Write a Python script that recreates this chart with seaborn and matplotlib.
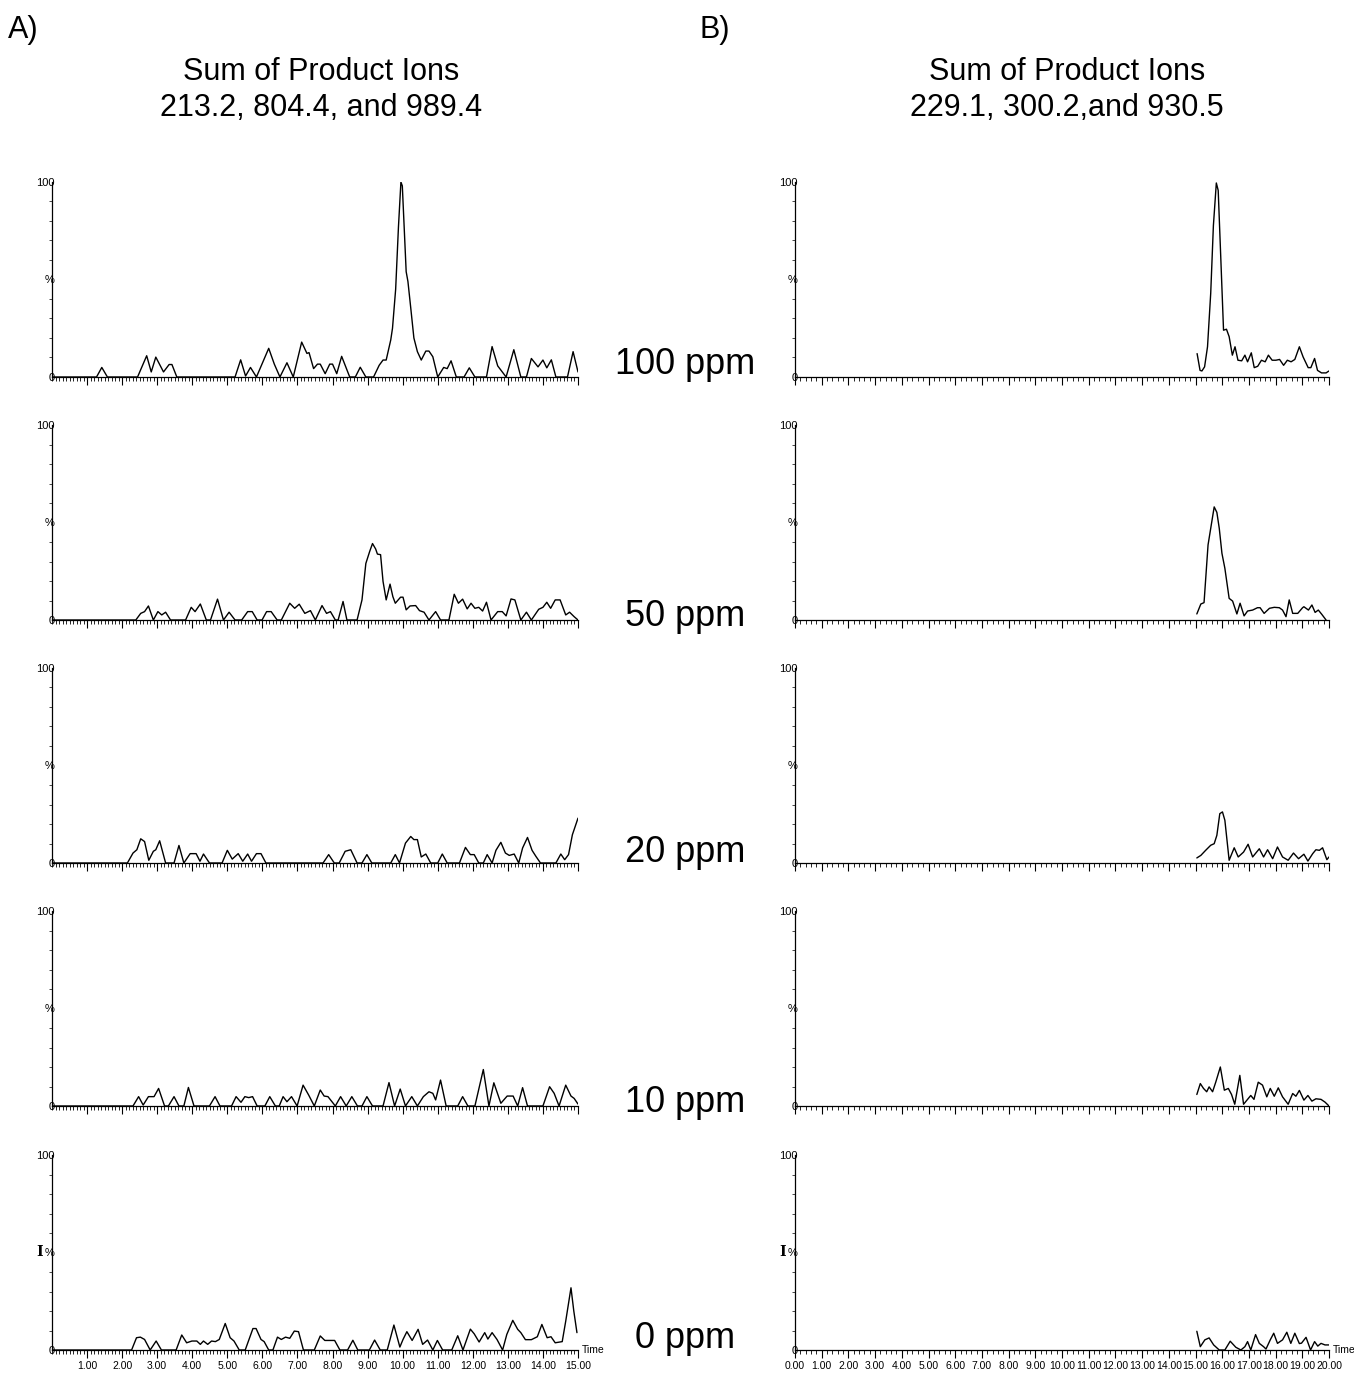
import numpy as np
import pandas as pd
import matplotlib
matplotlib.use("Agg")
import matplotlib.pyplot as plt
from matplotlib.ticker import FixedLocator, MultipleLocator
import seaborn as sns

# ---------------- data (time [min], relative intensity [%]) ----------------
concentrations = ["100 ppm", "50 ppm", "20 ppm", "10 ppm", "0 ppm"]
title_a = ["Sum of Product Ions", "213.2, 804.4, and 989.4"]
title_b = ["Sum of Product Ions", "229.1, 300.2,and 930.5"]
ticks_a = list(range(1, 16))
ticks_b = list(range(0, 21))

A100 = [(0.0, 0), (1.27, 0), (1.42, 4.9), (1.58, 0), (2.44, 0), (2.70, 10.9), (2.83, 2.6),
        (2.96, 10.2), (3.18, 2.6), (3.34, 6.4), (3.42, 6.4), (3.56, 0), (5.22, 0), (5.38, 8.8),
        (5.52, 0.5), (5.66, 4.9), (5.83, 0), (6.18, 14.7), (6.34, 6.6), (6.50, 0), (6.70, 7.3),
        (6.88, 0), (7.12, 17.9), (7.27, 12.1), (7.33, 12.5), (7.46, 4.3), (7.57, 6.6), (7.65, 6.6),
        (7.79, 1.7), (7.92, 6.6), (8.00, 6.6), (8.12, 1.7), (8.26, 10.6), (8.49, 0), (8.65, 0),
        (8.79, 5.0), (8.95, 0), (9.17, 0), (9.33, 6.0), (9.44, 8.7), (9.53, 8.7), (9.66, 19),
        (9.71, 25), (9.80, 45), (9.88, 77), (9.95, 100), (9.99, 98), (10.10, 54), (10.15, 49),
        (10.23, 35.5), (10.32, 20), (10.42, 13), (10.53, 8.7), (10.66, 13.3), (10.75, 13.3),
        (10.86, 10.4), (11.00, 0), (11.17, 4.9), (11.27, 4.3), (11.38, 8.3), (11.53, 0),
        (11.75, 0), (11.90, 4.7), (12.06, 0), (12.39, 0), (12.55, 15.6), (12.71, 5.7),
        (12.95, 0), (13.17, 14.0), (13.37, 0), (13.53, 0), (13.67, 9.5), (13.86, 5.2),
        (14.00, 8.7), (14.11, 4.7), (14.24, 8.8), (14.37, 0), (14.70, 0), (14.86, 13.0), (15.0, 2.6)]

A50 = [(0.0, 0), (2.39, 0), (2.53, 3.4), (2.64, 4.3), (2.75, 7.2), (2.89, 0), (3.02, 4.3),
       (3.13, 2.6), (3.24, 4.0), (3.38, 0), (3.81, 0), (3.97, 6.5), (4.08, 4.3), (4.23, 8.2),
       (4.40, 0), (4.52, 0), (4.72, 10.7), (4.89, 0), (5.05, 4.0), (5.22, 0), (5.41, 0),
       (5.58, 4.3), (5.71, 4.3), (5.85, 0), (5.99, 0), (6.12, 4.3), (6.25, 4.3), (6.42, 0),
       (6.54, 0), (6.78, 8.6), (6.92, 6.0), (7.05, 8.1), (7.21, 3.4), (7.37, 4.8), (7.51, 0),
       (7.70, 7.4), (7.83, 3.4), (7.94, 4.3), (8.08, 0), (8.16, 0), (8.30, 9.5), (8.41, 0),
       (8.70, 0), (8.84, 10.3), (8.95, 29), (9.06, 35.2), (9.14, 39.2), (9.23, 36.4),
       (9.28, 33.8), (9.37, 33.5), (9.44, 19.8), (9.53, 10.3), (9.64, 18.4), (9.72, 12),
       (9.79, 8.6), (9.94, 11.7), (10.01, 11.7), (10.10, 5.2), (10.21, 7.2), (10.37, 7.4),
       (10.48, 4.8), (10.61, 4.0), (10.75, 0), (10.94, 4.3), (11.08, 0), (11.32, 0),
       (11.47, 13.2), (11.59, 8.6), (11.71, 10.7), (11.84, 5.7), (11.95, 8.6), (12.06, 6.0),
       (12.17, 6.5), (12.28, 4.6), (12.39, 9.1), (12.52, 0), (12.71, 4.3), (12.84, 4.3),
       (12.95, 2.1), (13.09, 10.8), (13.20, 10.3), (13.37, 0), (13.53, 4.0), (13.67, 0),
       (13.88, 5.5), (14.00, 6.5), (14.11, 9.1), (14.22, 6.0), (14.35, 10.3), (14.49, 10.3),
       (14.65, 2.6), (14.76, 4.0), (14.89, 1.7), (15.0, 0)]

A20 = [(0.0, 0), (2.15, 0), (2.31, 5.1), (2.42, 6.8), (2.53, 12.4), (2.64, 11), (2.76, 1.4),
       (2.89, 6), (2.96, 6.8), (3.07, 11.4), (3.24, 0), (3.48, 0), (3.62, 9), (3.76, 0),
       (3.94, 4.8), (4.11, 4.8), (4.22, 0.9), (4.32, 4.6), (4.49, 0), (4.85, 0), (5.00, 6.5),
       (5.14, 2.0), (5.31, 4.8), (5.44, 0.9), (5.58, 4.6), (5.69, 0.9), (5.83, 4.8), (5.96, 4.8),
       (6.10, 0), (7.73, 0), (7.89, 4.3), (8.05, 0), (8.19, 0), (8.36, 6), (8.52, 6.8), (8.70, 0),
       (8.84, 0), (8.98, 4.3), (9.12, 0), (9.66, 0), (9.79, 4.3), (9.91, 0), (10.08, 10.2),
       (10.23, 13.6), (10.32, 12), (10.42, 12), (10.53, 3.1), (10.66, 4.6), (10.80, 0),
       (11.00, 0), (11.13, 4.6), (11.27, 0), (11.62, 0), (11.79, 8), (11.93, 4.3), (12.04, 4.3),
       (12.17, 0), (12.30, 0), (12.41, 4.3), (12.55, 0), (12.66, 6.5), (12.80, 10.6),
       (12.93, 5.1), (13.04, 3.9), (13.18, 4.6), (13.31, 0), (13.42, 7.7), (13.56, 13.1),
       (13.69, 6.5), (13.80, 3.4), (13.93, 0), (14.37, 0), (14.51, 4.6), (14.62, 1.7),
       (14.73, 4.3), (14.84, 14.5), (15.0, 23)]

A10 = [(0.0, 0), (2.31, 0), (2.47, 4.8), (2.60, 0.5), (2.75, 4.8), (2.91, 4.8), (3.04, 9),
       (3.21, 0), (3.32, 0), (3.48, 4.8), (3.62, 0), (3.76, 0), (3.89, 9.5), (4.05, 0), (4.49, 0),
       (4.65, 4.8), (4.79, 0), (5.12, 0), (5.25, 4.8), (5.39, 1.9), (5.50, 4.8), (5.61, 4.3),
       (5.72, 4.8), (5.85, 0), (6.07, 0), (6.21, 4.8), (6.37, 0), (6.48, 0), (6.59, 4.8),
       (6.70, 2.2), (6.83, 4.8), (6.99, 0), (7.16, 10.7), (7.32, 5.6), (7.48, 0), (7.65, 8.2),
       (7.76, 5.1), (7.87, 4.8), (8.08, 0), (8.23, 4.8), (8.39, 0), (8.55, 4.8), (8.71, 0),
       (8.84, 0), (8.98, 4.8), (9.14, 0), (9.44, 0), (9.61, 12), (9.77, 0), (9.93, 8.7),
       (10.08, 0), (10.26, 4.8), (10.42, 0), (10.59, 4.8), (10.75, 7.3), (10.86, 6.5),
       (10.94, 3.1), (11.08, 13.3), (11.24, 0), (11.57, 0), (11.71, 4.8), (11.86, 0), (12.06, 0),
       (12.30, 18.7), (12.46, 0), (12.60, 11.9), (12.80, 1.4), (12.98, 5.1), (13.15, 5.1),
       (13.28, 0), (13.42, 9.4), (13.56, 0), (14.00, 0), (14.19, 9.9), (14.32, 6.5), (14.46, 0),
       (14.65, 10.7), (14.80, 5.1), (14.89, 3.9), (15.0, 1.0)]

A0 = [(0.0, 0), (2.27, 0), (2.41, 6.3), (2.52, 6.6), (2.64, 5.4), (2.80, 0), (2.97, 4.6),
      (3.12, 0), (3.54, 0), (3.70, 7.7), (3.84, 3.7), (3.99, 4.6), (4.13, 4.6), (4.23, 2.9),
      (4.32, 4.6), (4.44, 2.9), (4.55, 4.6), (4.66, 4.3), (4.77, 5.4), (4.94, 13.6), (5.08, 6.3),
      (5.19, 4.6), (5.34, 0), (5.51, 0), (5.73, 11), (5.82, 11), (5.96, 5.4), (6.05, 4.3),
      (6.18, 0), (6.30, 0), (6.43, 6.6), (6.54, 5.4), (6.66, 6.6), (6.78, 6.0), (6.91, 9.7),
      (7.03, 9.4), (7.17, 0), (7.48, 0), (7.65, 7.2), (7.78, 4.9), (7.93, 4.9), (8.06, 4.9),
      (8.21, 0), (8.43, 0), (8.58, 5), (8.72, 0), (9.05, 0), (9.20, 5.1), (9.36, 0), (9.56, 0),
      (9.75, 12.8), (9.92, 1.5), (10.01, 5.4), (10.12, 9.4), (10.27, 4.9), (10.44, 10.6),
      (10.57, 2.9), (10.71, 5.1), (10.86, 0), (10.99, 4.9), (11.14, 0), (11.40, 0), (11.57, 7.3),
      (11.72, 0), (11.93, 10.7), (12.04, 8.3), (12.18, 4.1), (12.34, 8.9), (12.43, 5.6),
      (12.55, 8.9), (12.69, 5.4), (12.85, 0), (12.97, 8.0), (13.14, 15.2), (13.28, 10.6),
      (13.37, 8.9), (13.50, 5.3), (13.67, 5.3), (13.84, 6.8), (13.97, 13.1), (14.12, 6.3),
      (14.23, 6.8), (14.35, 3.7), (14.55, 4.3), (14.65, 14.8), (14.80, 31.9), (14.88, 20),
      (14.97, 8.9)]

B100 = [(15.06, 12), (15.17, 3.4), (15.24, 3.1), (15.34, 5.2), (15.45, 15.5), (15.57, 43),
        (15.67, 77.6), (15.78, 99.5), (15.85, 95.7), (15.95, 60), (16.05, 24), (16.16, 24.5),
        (16.26, 20.7), (16.38, 11.2), (16.48, 15.5), (16.59, 8.6), (16.73, 8.3), (16.85, 11.2),
        (16.95, 7.8), (17.09, 12.4), (17.20, 4.8), (17.33, 5.5), (17.47, 8.6), (17.61, 7.8),
        (17.73, 11.2), (17.87, 8.6), (18.01, 8.6), (18.15, 9.0), (18.30, 6.0), (18.44, 8.6),
        (18.58, 7.8), (18.72, 9.0), (18.89, 15.5), (19.03, 10.3), (19.22, 4.8), (19.32, 4.8),
        (19.46, 9.5), (19.57, 3.4), (19.72, 2.1), (19.89, 2.1), (20.0, 3.1)]

B50 = [(15.05, 3.1), (15.20, 8.2), (15.32, 8.9), (15.47, 38.5), (15.57, 47), (15.70, 58),
       (15.80, 55.2), (15.89, 47), (15.99, 34.2), (16.10, 26.5), (16.26, 11.1), (16.39, 9.7),
       (16.55, 3.1), (16.67, 8.6), (16.82, 2.1), (16.95, 4.6), (17.14, 5.1), (17.32, 6.3),
       (17.42, 6.3), (17.57, 3.4), (17.77, 6.0), (17.95, 6.5), (18.14, 6.3), (18.26, 5.1),
       (18.39, 1.7), (18.51, 10.3), (18.64, 3.4), (18.83, 3.4), (19.01, 6.3), (19.06, 6.8),
       (19.23, 5.1), (19.36, 7.7), (19.48, 3.9), (19.60, 5.1), (19.73, 2.9), (19.89, 0)]

B20 = [(15.05, 2.6), (15.20, 3.9), (15.38, 6.5), (15.57, 9.1), (15.70, 9.9), (15.80, 14.2),
       (15.91, 25.3), (16.01, 26.2), (16.10, 21.9), (16.26, 1.4), (16.45, 7.8), (16.60, 3.1),
       (16.80, 5.6), (16.97, 9.6), (17.14, 3.1), (17.39, 7.3), (17.55, 3.1), (17.70, 6.8),
       (17.89, 2.2), (18.07, 8.2), (18.26, 3.1), (18.47, 1.4), (18.67, 5.1), (18.86, 2.2),
       (19.06, 4.5), (19.21, 1.0), (19.39, 4.8), (19.51, 6.8), (19.64, 6.5), (19.76, 7.8),
       (19.92, 1.7), (20.0, 3.1)]

B10 = [(15.05, 5.9), (15.18, 11.5), (15.30, 9.0), (15.42, 7.3), (15.51, 9.8), (15.64, 7.3),
       (15.76, 12.3), (15.93, 20), (16.08, 8.1), (16.23, 9.0), (16.35, 5.9), (16.47, 0.9),
       (16.66, 15.7), (16.80, 0.9), (16.95, 3.4), (17.07, 5.4), (17.19, 3.4), (17.35, 12.2),
       (17.51, 10.7), (17.67, 4.7), (17.80, 9.0), (17.95, 5.0), (18.10, 9.3), (18.26, 4.7),
       (18.47, 0.9), (18.64, 6.4), (18.76, 5.0), (18.89, 8.0), (19.06, 3.0), (19.21, 5.4),
       (19.36, 2.5), (19.51, 3.7), (19.70, 3.4), (19.85, 2.0), (20.0, 0)]

B0 = [(15.05, 9.6), (15.18, 1.7), (15.35, 5.2), (15.51, 6.2), (15.68, 2.6), (15.89, 0),
      (16.10, 0), (16.30, 4.5), (16.51, 1.4), (16.70, 0), (16.85, 1.7), (16.95, 4.3), (17.07, 0),
      (17.25, 7.9), (17.39, 3.4), (17.55, 1.7), (17.64, 0.5), (17.80, 5.2), (17.93, 8.6),
      (18.07, 3.4), (18.26, 5.2), (18.42, 9.1), (18.57, 3.4), (18.72, 8.6), (18.89, 3.3),
      (18.97, 3.5), (19.14, 6.5), (19.31, 0), (19.46, 4.3), (19.58, 2.0), (19.70, 3.4),
      (19.85, 2.6), (20.0, 2.6)]

traces_a = [A100, A50, A20, A10, A0]
traces_b = [B100, B50, B20, B10, B0]

# ---------------- style ----------------
sns.set_theme(style="white")
plt.rcParams["font.family"] = ["Liberation Sans", "DejaVu Sans"]
plt.rcParams["text.color"] = "black"
plt.rcParams["xtick.color"] = "black"
plt.rcParams["ytick.color"] = "black"
plt.rcParams["axes.labelcolor"] = "black"

W, H = 1354, 1374
fig = plt.figure(figsize=(W / 100, H / 100), dpi=100)

columns = [
    dict(traces=traces_a, left=52, right=578, xmax=15, ticks=ticks_a, minor=0.1),
    dict(traces=traces_b, left=795, right=1329, xmax=20, ticks=ticks_b, minor=0.2),
]
panel_h = 195
zero_rows = [377, 620, 863, 1106, 1350]

for col in columns:
    for r, trace in enumerate(col["traces"]):
        zero_y = zero_rows[r]
        ax = fig.add_axes([col["left"] / W, 1 - zero_y / H,
                           (col["right"] - col["left"]) / W, panel_h / H])
        df = pd.DataFrame(trace, columns=["time", "intensity"])
        sns.lineplot(data=df, x="time", y="intensity", ax=ax, color="black",
                     linewidth=1.0, estimator=None, sort=False)
        ax.set_xlim(0, col["xmax"])
        ax.set_ylim(0, 100)
        ax.set_xlabel("")
        ax.set_ylabel("")
        for s in ["top", "right"]:
            ax.spines[s].set_visible(False)
        for s in ["left", "bottom"]:
            ax.spines[s].set_color("black")
            ax.spines[s].set_linewidth(0.9)
        ax.patch.set_alpha(0)

        ax.xaxis.set_major_locator(FixedLocator(col["ticks"]))
        ax.xaxis.set_minor_locator(MultipleLocator(col["minor"]))
        ax.tick_params(axis="x", which="major", direction="out", length=6, width=0.8,
                       colors="black", labelsize=7.5, pad=2, bottom=True)
        ax.tick_params(axis="x", which="minor", direction="out", length=3, width=0.6,
                       colors="black", bottom=True)
        if r == len(col["traces"]) - 1:
            ax.set_xticklabels([f"{t:.2f}" for t in col["ticks"]])
            ax.text(1.008, 0.0, "Time", transform=ax.transAxes, fontsize=7.5,
                    ha="left", va="center")
            ax.text(-0.024, 0.5, "I", transform=ax.transAxes, fontsize=10,
                    fontweight="bold", family="serif", ha="center", va="center")
        else:
            ax.set_xticklabels([])

        ax.yaxis.set_major_locator(FixedLocator([0, 50, 100]))
        ax.set_yticklabels(["0", "%", "100"])
        ax.yaxis.set_minor_locator(MultipleLocator(10))
        ax.tick_params(axis="y", which="major", length=0, labelsize=8, pad=-2,
                       colors="black", left=True)
        ax.tick_params(axis="y", which="minor", direction="out", length=2, width=0.5,
                       colors="black", left=True)

# ---------------- texts ----------------
fig.text(8 / W, 1 - 30 / H, "A)", fontsize=22, ha="left", va="center")
fig.text(700 / W, 1 - 30 / H, "B)", fontsize=22, ha="left", va="center")
fig.text(321 / W, 1 - 72 / H, title_a[0], fontsize=22, ha="center", va="center")
fig.text(321 / W, 1 - 108 / H, title_a[1], fontsize=22, ha="center", va="center")
fig.text(1067 / W, 1 - 72 / H, title_b[0], fontsize=22, ha="center", va="center")
fig.text(1067 / W, 1 - 108 / H, title_b[1], fontsize=22, ha="center", va="center")

conc_y = [365, 616, 852, 1102, 1338]
for label, y in zip(concentrations, conc_y):
    fig.text(685 / W, 1 - y / H, label, fontsize=26, ha="center", va="center")

fig.savefig("out.png", dpi=100, facecolor="white")
